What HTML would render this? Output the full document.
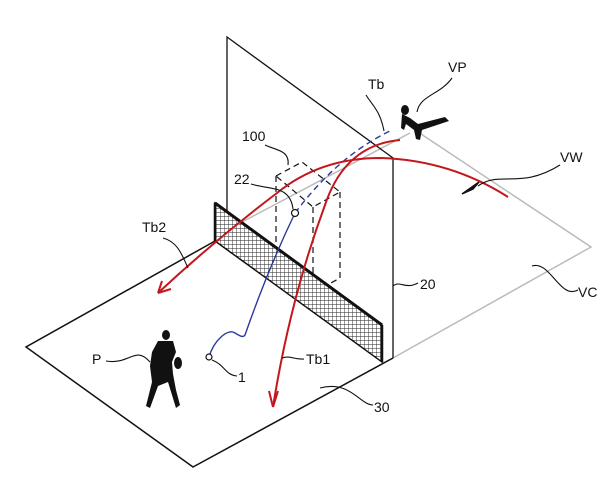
<!DOCTYPE html>
<html><head><style>
html,body{margin:0;padding:0;background:#fff;}
svg{display:block}
text{font-family:"Liberation Sans",sans-serif;font-size:14px;fill:#111;}
</style></head><body>
<svg width="600" height="480" viewBox="0 0 600 480" xmlns="http://www.w3.org/2000/svg">
<defs>
<pattern id="mesh" width="4" height="4" patternUnits="userSpaceOnUse">
<rect width="4" height="4" fill="#fff"/>
<path d="M0 0H4M0 0V4" stroke="#222" stroke-width="0.9"/>
</pattern>
</defs>
<g stroke="#bbb" stroke-width="1.5" fill="none">
<path d="M393 358 L591 247 L418 132"/>
<path d="M227 230 L410 133"/>
</g>
<path d="M215 241 L26 347 L193 467 L393 358" stroke="#111" stroke-width="1.5" fill="none"/>
<path d="M227 230 V37 L393 158 V358" stroke="#111" stroke-width="1.3" fill="none"/>
<g stroke="#111" stroke-width="1.2" fill="none" stroke-dasharray="6 4">
<path d="M276 176 L302 162 L340 192 L313 207 Z"/>
<path d="M276 176 V265 M313 207 V290 M340 192 V278 L318 290"/>
<path d="M276 265 L320 290"/>
</g>
<path d="M215 203 L382 325 L382 362 L215 241 Z" fill="url(#mesh)" stroke="#111" stroke-width="1.5"/>
<path d="M215 203 L382 325" stroke="#111" stroke-width="3"/>
<path d="M215 203 V242 M382 325 V362" stroke="#111" stroke-width="2.5"/>
<path d="M209 357 C214 340 228 328 235 333 C240 336 243 338 245 335 C252 315 270 265 295 213" stroke="#2a3a9a" stroke-width="1.4" fill="none"/>
<path d="M295 213 C320 180 350 150 392 130" stroke="#2a3a9a" stroke-width="1.4" fill="none" stroke-dasharray="6 4"/>
<circle cx="295" cy="213" r="3.5" fill="#fff" stroke="#111" stroke-width="1.2"/>
<circle cx="209" cy="357" r="3" fill="#fff" stroke="#111" stroke-width="1.2"/>
<g stroke="#c4161c" stroke-width="2" fill="none">
<path d="M508 197 Q450 160 380 158 Q320 158 277 193 Q215 240 158 293"/>
<path d="M400 140 Q345 145 325 205 Q290 300 273 407"/>
<path d="M158 293 L162 281 M158 293 L171 289"/>
<path d="M273 407 L269 391 M273 407 L278 391"/>
</g>
<polygon points="462,194 479,182 473,189" fill="#111" stroke="#111" stroke-width="1.5"/>
<g fill="#111">
<ellipse cx="405" cy="110" rx="4" ry="5"/>
<path d="M402 114 L410 118 L418 124 L445 117 L449 121 L422 130 L420 140 L416 139 L414 130 L406 124 L404 130 L401 128 Z"/>
<ellipse cx="166" cy="335" rx="4" ry="5"/>
<path d="M158 341 L173 341 L176 352 L172 362 L173 374 L176 390 L180 405 L176 408 L168 382 L158 386 L150 408 L146 406 L152 382 L150 366 L152 352 Z"/>
<ellipse cx="178" cy="363" rx="4" ry="6"/>
</g>
<g stroke="#111" stroke-width="1.1" fill="none">
<path d="M384 131 C380 110 372 105 366 95"/>
<path d="M417 112 C420 95 440 95 452 78"/>
<path d="M478 186 C500 170 520 190 560 165"/>
<path d="M265 145 C275 150 290 150 288 165"/>
<path d="M251 184 C270 190 290 185 293 209"/>
<path d="M163 238 C178 242 182 255 188 268"/>
<path d="M393 286 C400 280 405 290 418 283"/>
<path d="M532 266 C550 260 560 300 578 290"/>
<path d="M106 361 C130 365 135 345 150 362"/>
<path d="M212 360 C225 365 225 375 237 376"/>
<path d="M282 358 C290 355 295 360 304 359"/>
<path d="M320 388 C350 380 360 405 373 405"/>
</g>
<text x="368" y="89">Tb</text>
<text x="448" y="72">VP</text>
<text x="560" y="162">VW</text>
<text x="242" y="141">100</text>
<text x="234" y="184">22</text>
<text x="142" y="232">Tb2</text>
<text x="420" y="289">20</text>
<text x="578" y="297">VC</text>
<text x="92" y="364">P</text>
<text x="238" y="382">1</text>
<text x="306" y="364">Tb1</text>
<text x="374" y="412">30</text>
</svg>
</body></html>
